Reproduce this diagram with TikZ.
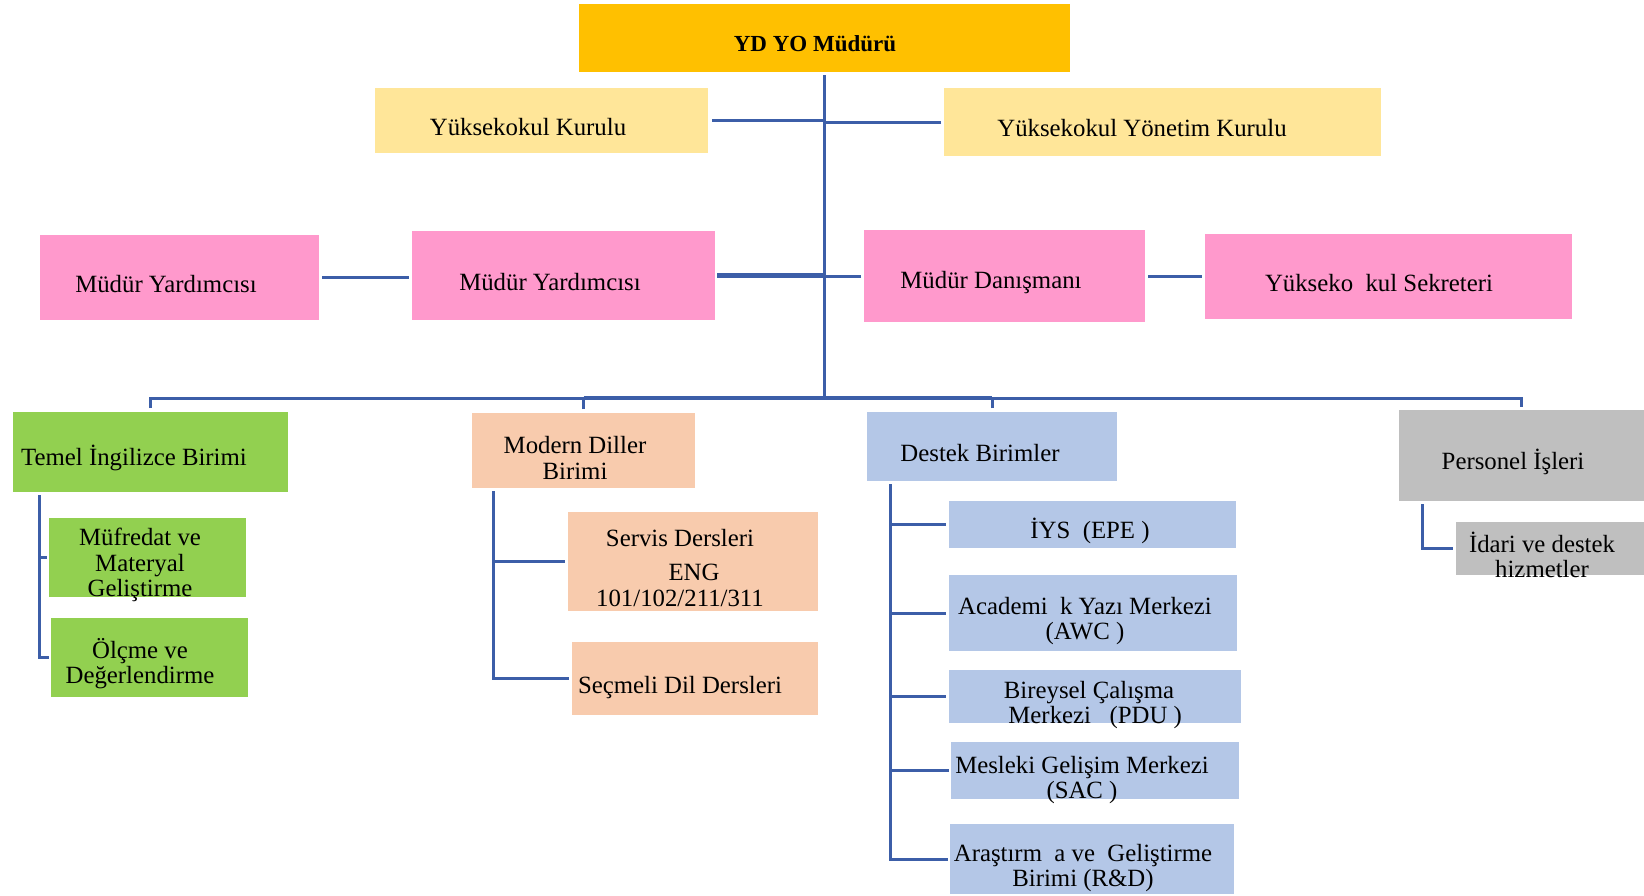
\documentclass[tikz,border=0pt]{standalone}
\usepackage{fontspec}
\setmainfont{Liberation Serif}
\usetikzlibrary{fit,calc}
\definecolor{goldc}{HTML}{FFC000}
\definecolor{yelc}{HTML}{FFE699}
\definecolor{pinkc}{HTML}{FF99CC}
\definecolor{greenc}{HTML}{92D050}
\definecolor{peachc}{HTML}{F8CBAD}
\definecolor{bluec}{HTML}{B4C7E7}
\definecolor{grayc}{HTML}{BFBFBF}
\definecolor{linec}{HTML}{3C5EA8}
\begin{document}
\begin{tikzpicture}[x=0.5pt,y=-0.5pt,
  box/.style={inner sep=0pt, outer sep=0pt, draw=none},
  txt/.style={inner sep=0pt, align=center, yshift=-1.5pt, font=\fontsize{12.4}{12.6}\selectfont},
  conn/.style={draw=linec, line width=1.5pt},
  heavy/.style={draw=linec, line width=2.4pt}]
\useasboundingbox (0,0) rectangle (1644,895);
\fill[white] (0,0) rectangle (1644,895);
% boxes
\node[box, fill=goldc,  fit={(579,4) (1070,72)}]    (top) {};
\node[box, fill=yelc,   fit={(375,88) (708,153)}]   (yk) {};
\node[box, fill=yelc,   fit={(944,88) (1381,156)}]  (yyk) {};
\node[box, fill=pinkc,  fit={(40,235) (319,320)}]   (my1) {};
\node[box, fill=pinkc,  fit={(412,231) (715,320)}]  (my2) {};
\node[box, fill=pinkc,  fit={(864,230) (1145,322)}] (md) {};
\node[box, fill=pinkc,  fit={(1205,234) (1572,319)}] (sek) {};
\node[box, fill=greenc, fit={(13,412) (288,492)}]   (temel) {};
\node[box, fill=greenc, fit={(49,518) (246,597)}]   (muf) {};
\node[box, fill=greenc, fit={(51,618) (248,697)}]   (olc) {};
\node[box, fill=peachc, fit={(472,413) (695,488)}]  (mod) {};
\node[box, fill=peachc, fit={(568,512) (818,611)}]  (serv) {};
\node[box, fill=peachc, fit={(572,642) (818,715)}]  (secm) {};
\node[box, fill=bluec,  fit={(867,412) (1117,481)}] (dest) {};
\node[box, fill=bluec,  fit={(949,501) (1236,548)}] (iys) {};
\node[box, fill=bluec,  fit={(949,575) (1237,651)}] (awc) {};
\node[box, fill=bluec,  fit={(949,670) (1241,723)}] (pdu) {};
\node[box, fill=bluec,  fit={(951,742) (1239,799)}] (sac) {};
\node[box, fill=bluec,  fit={(950,824) (1234,894)}] (rd) {};
\node[box, fill=grayc,  fit={(1399,410) (1644,501)}] (pers) {};
\node[box, fill=grayc,  fit={(1456,522) (1644,575)}] (idari) {};
% texts
\node[txt, font=\fontsize{11.5}{12}\selectfont\bfseries] (top-t) at (815,41) {YD YO Müdürü};
\node[txt] (yk-t)  at (528,124) {Yüksekokul Kurulu};
\node[txt] (yyk-t) at (1142,125) {Yüksekokul Yönetim Kurulu};
\node[txt] (my1-t) at (166,281) {Müdür Yardımcısı};
\node[txt] (my2-t) at (550,279) {Müdür Yardımcısı};
\node[txt] (md-t)  at (991,280) {Müdür Danışmanı};
\node[txt] (sek-t) at (1379,280) {Yükseko\ \ kul Sekreteri};
\node[txt] (temel-t) at (134,455) {Temel İngilizce Birimi};
\node[txt] (mod-t) at (575,455) {Modern Diller\\Birimi};
\node[txt] (muf-t) at (140,562) {Müfredat ve\\Materyal\\Geliştirme};
\node[txt] (olc-t) at (140,661) {Ölçme ve\\Değerlendirme};
\node[txt] (serv-t) at (680,565) {Servis Dersleri\\[4.5pt]\hspace*{14pt}ENG\\101/102/211/311};
\node[txt] (secm-t) at (680,685) {Seçmeli Dil Dersleri};
\node[txt] (dest-t) at (980,450) {Destek Birimler};
\node[txt] (iys-t) at (1090,528) {İYS\ \ (EPE )};
\node[txt] (awc-t) at (1085,618) {Academi\ \ k Yazı Merkezi\\(AWC )};
\node[txt] (pdu-t) at (1089,702) {Bireysel Çalışma\\\ \ Merkezi\ \ \ (PDU )};
\node[txt] (sac-t) at (1082,777) {Mesleki Gelişim Merkezi\\(SAC )};
\node[txt] (rd-t)  at (1083,865) {Araştırm\ \ a ve\ \ Geliştirme\\Birimi (R\&D)};
\node[txt] (pers-t) at (1513,459) {Personel İşleri};
\node[txt] (idari-t) at (1542,552) {İdari ve destek\\hizmetler};
% connectors
\coordinate (bus) at (0,398);
\draw[conn] ([yshift=-1.5pt]top.south) -- (top.south |- bus);
\draw[conn] ([xshift=2pt]yk.east) -- (yk.east -| top.south);
\draw[conn] ([xshift=-1.5pt]yyk.west) -- (yyk.west -| top.south);
\draw[conn, shorten <=1.5pt, shorten >=1.5pt] (my1.east) -- (my1.east -| my2.west);
\draw[heavy] ([xshift=1pt]my2.east) -- (my2.east -| top.south);
\draw[conn] ([xshift=-1.5pt]md.west) -- (md.west -| top.south);
\draw[conn, shorten <=1.5pt, shorten >=1.5pt] (md.east) -- (md.east -| sek.west);
\draw[conn] ([yshift=2pt]temel.north) -- (temel.north |- bus) -- (pers.north |- bus) -- ([yshift=1.5pt]pers.north);
\draw[conn] ([yshift=2pt]mod.north) -- (mod.north |- bus);
\draw[conn] ([yshift=2pt]dest.north) -- (dest.north |- bus);
\draw[heavy] (mod.north |- bus) -- (dest.north |- bus);
% Temel subtree
\coordinate (tv) at ($(temel.south west)+(26,3)$);
\draw[conn] (tv) -- (tv |- olc.west) -- ([xshift=-1pt]olc.west);
\draw[conn] (tv |- muf.west) -- ([xshift=-1pt]muf.west);
% Modern subtree
\coordinate (mv) at ($(mod.south west)+(21,3)$);
\draw[conn] (mv) -- (mv |- secm.west) -- ([xshift=-1.5pt]secm.west);
\draw[conn] (mv |- serv.west) -- ([xshift=-1.5pt]serv.west);
% Destek subtree
\coordinate (dv) at ($(dest.south west)+(23,3)$);
\draw[conn] (dv) -- (dv |- rd.west) -- ([xshift=-1pt]rd.west);
\draw[conn] (dv |- iys.west) -- ([xshift=-1.5pt]iys.west);
\draw[conn] (dv |- awc.west) -- ([xshift=-1.5pt]awc.west);
\draw[conn] (dv |- pdu.west) -- ([xshift=-1.5pt]pdu.west);
\draw[conn] (dv |- sac.west) -- ([xshift=-1pt]sac.west);
% Personel subtree
\coordinate (pv) at ($(pers.south west)+(23,3)$);
\draw[conn] (pv) -- (pv |- idari.west) -- ([xshift=-1.5pt]idari.west);
\end{tikzpicture}
\end{document}
